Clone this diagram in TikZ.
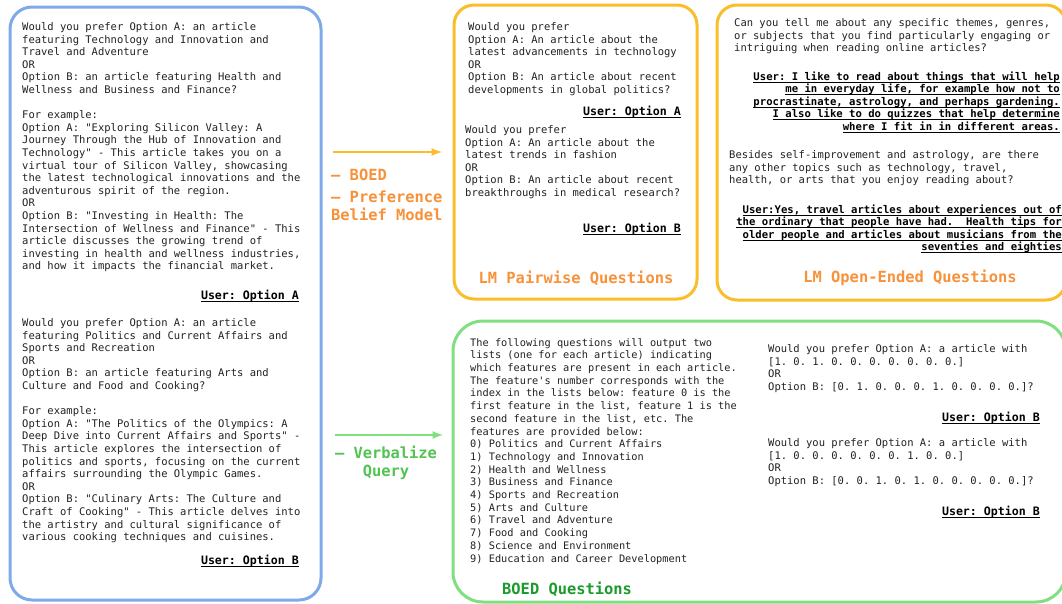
\documentclass[tikz,border=0pt]{standalone}
\usepackage{fontspec}
\setmonofont{DejaVu Sans Mono}
\usepackage{xcolor}
\definecolor{ctxblue}{HTML}{7EAAEA}
\definecolor{lmorange}{HTML}{FCBD2A}
\definecolor{lmtitle}{HTML}{F7923A}
\definecolor{boedgreen}{HTML}{80E080}
\definecolor{verbgreen}{HTML}{52C452}
\definecolor{boedtitle}{HTML}{1B9B2B}
\definecolor{bodytext}{HTML}{222222}
% underline with a thicker rule
\newcommand{\uln}[1]{\setbox0\hbox{#1}\rlap{\raisebox{-2.6pt}{\rule{\wd0}{1.1pt}}}\box0}
\tikzset{
  >=latex,
  panel/.style={line width=3pt,rounded corners=22pt},
}
\tikzstyle{body}=[font=\fontsize{10.5}{12.6}\selectfont\ttfamily,text=bodytext,inner sep=0pt,align=left,anchor=north west,execute at begin node=\strut]
\tikzstyle{answer}=[font=\fontsize{11.6}{14}\selectfont\ttfamily\bfseries,text=black,inner sep=0pt,anchor=base east]
\tikzstyle{reply}=[font=\fontsize{10.6}{12.5}\selectfont\ttfamily\bfseries,text=black,inner sep=0pt,align=right,anchor=north east,execute at begin node=\strut]
\tikzstyle{title}=[font=\fontsize{15.4}{18}\selectfont\ttfamily\bfseries,inner sep=0pt]
\tikzstyle{flow}=[line width=2.5pt,->]

\begin{document}
\begin{tikzpicture}[x=1pt,y=-1pt]
  \useasboundingbox (0,0) rectangle (1062,603);
  \fill[white] (0,0) rectangle (1062,603);
  \clip (0,0) rectangle (1062,603);

  % panels
  \draw[panel,ctxblue] (10,7) rectangle (321,600);
  \draw[panel,lmorange,rounded corners=20pt] (454,5) rectangle (697,299);
  \draw[panel,lmorange,rounded corners=20pt] (717,5) rectangle (1066,300);
  \draw[panel,boedgreen,rounded corners=30pt] (453,321) rectangle (1066,602);

  % context (left)
  \node[body] (ctxa) at (22,22.2) {Would you prefer Option A: an article\\
featuring Technology and Innovation and\\
Travel and Adventure\\
OR\\
Option B: an article featuring Health and\\
Wellness and Business and Finance?\\[12.6pt]
For example:\\
Option A: "Exploring Silicon Valley: A\\
Journey Through the Hub of Innovation and\\
Technology" - This article takes you on a\\
virtual tour of Silicon Valley, showcasing\\
the latest technological innovations and the\\
adventurous spirit of the region.\\
OR\\
Option B: "Investing in Health: The\\
Intersection of Wellness and Finance" - This\\
article discusses the growing trend of\\
investing in health and wellness industries,\\
and how it impacts the financial market.};
  \node[answer] (ctxansa) at (299,299) {\uln{User: Option A}};
  \node[body] (ctxb) at (22,318.2) {Would you prefer Option A: an article\\
featuring Politics and Current Affairs and\\
Sports and Recreation\\
OR\\
Option B: an article featuring Arts and\\
Culture and Food and Cooking?\\[12.6pt]
For example:\\
Option A: "The Politics of the Olympics: A\\
Deep Dive into Current Affairs and Sports" -\\
This article explores the intersection of\\
politics and sports, focusing on the current\\
affairs surrounding the Olympic Games.\\
OR\\
Option B: "Culinary Arts: The Culture and\\
Craft of Cooking" - This article delves into\\
the artistry and cultural significance of\\
various cooking techniques and cuisines.};
  \node[answer] (ctxansb) at (299,564) {\uln{User: Option B}};

  % arrows
  \coordinate (lmfrom) at (333,152);
  \coordinate (lmto) at (442,152);
  \draw[flow,lmorange] (lmfrom) -- (lmto);
  \node[title,lmtitle,align=left,anchor=north west] (lmlabel) at (331,169)
    {– BOED\\[4pt]– Preference\\Belief Model};
  \coordinate (vqfrom) at (335,435);
  \coordinate (vqto) at (443,435);
  \draw[flow,boedgreen] (vqfrom) -- (vqto);
  \node[title,verbgreen,align=center] (vqlabel) at (386,463) {– Verbalize\\Query};

  % pairwise
  \node[body] (pairq1) at (468,22.2) {Would you prefer\\
Option A: An article about the\\
latest advancements in technology\\
OR\\
Option B: An article about recent\\
developments in global politics?};
  \node[answer] (paira1) at (681,115) {\uln{User: Option A}};
  \node[body] (pairq2) at (465,125.2) {Would you prefer\\
Option A: An article about the\\
latest trends in fashion\\
OR\\
Option B: An article about recent\\
breakthroughs in medical research?};
  \node[answer] (paira2) at (681,232) {\uln{User: Option B}};
  \node[title,lmtitle] (pairtitle) at (576,278) {LM Pairwise Questions};

  % open-ended
  \node[body] (openq1) at (734,18.2) {Can you tell me about any specific themes, genres,\\
or subjects that you find particularly engaging or\\
intriguing when reading online articles?};
  \node[reply] (opena1) at (1060,71.2) {\uln{User: I like to read about things that will help}\\
\uln{me in everyday life, for example how not to}\\
\uln{procrastinate, astrology, and perhaps gardening.}\\
\uln{I also like to do quizzes that help determine}\\
\uln{where I fit in in different areas.}};
  \node[body] (openq2) at (729,150.2) {Besides self-improvement and astrology, are there\\
any other topics such as technology, travel,\\
health, or arts that you enjoy reading about?};
  \node[reply] (opena2) at (1062,204.2) {\uln{User:Yes, travel articles about experiences out of}\\
\uln{the ordinary that people have had.\ \ Health tips for}\\
\uln{older people and articles about musicians from the}\\
\uln{seventies and eighties}};
  \node[title,lmtitle] (opentitle) at (910,278) {LM Open-Ended Questions};

  % BOED
  \node[body,font=\fontsize{10.3}{12.7}\selectfont\ttfamily] (feats) at (470,338.1) {The following questions will output two\\
lists (one for each article) indicating\\
which features are present in each article.\\
The feature's number corresponds with the\\
index in the lists below: feature 0 is the\\
first feature in the list, feature 1 is the\\
second feature in the list, etc. The\\
features are provided below:\\
0) Politics and Current Affairs\\
1) Technology and Innovation\\
2) Health and Wellness\\
3) Business and Finance\\
4) Sports and Recreation\\
5) Arts and Culture\\
6) Travel and Adventure\\
7) Food and Cooking\\
8) Science and Environment\\
9) Education and Career Development};
  \node[body] (boedq1) at (768,344.2) {Would you prefer Option A: a article with\\
{[}1. 0. 1. 0. 0. 0. 0. 0. 0. 0.]\\
OR\\
Option B: [0. 1. 0. 0. 0. 1. 0. 0. 0. 0.]?};
  \node[answer] (boeda1) at (1040,421) {\uln{User: Option B}};
  \node[body] (boedq2) at (768,438.2) {Would you prefer Option A: a article with\\
{[}1. 0. 0. 0. 0. 0. 0. 1. 0. 0.]\\
OR\\
Option B: [0. 0. 1. 0. 1. 0. 0. 0. 0. 0.]?};
  \node[answer] (boeda2) at (1040,515) {\uln{User: Option B}};
  \node[title,boedtitle,anchor=west] (boedtitle) at (502,589) {BOED Questions};
\end{tikzpicture}
\end{document}
